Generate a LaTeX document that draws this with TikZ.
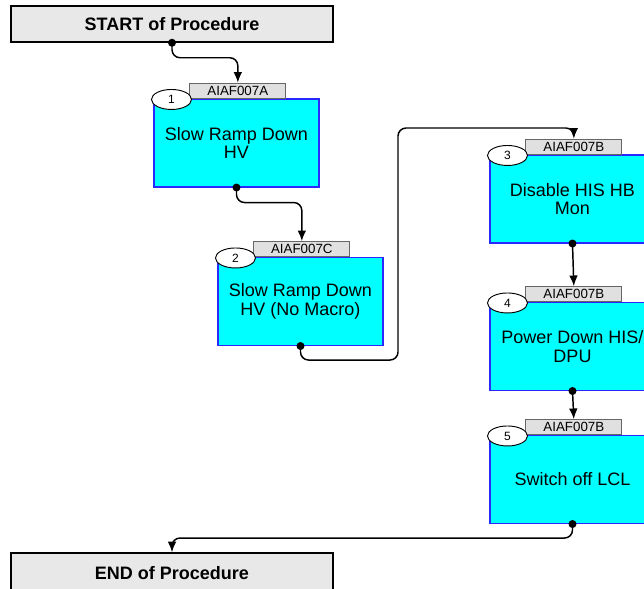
\documentclass[tikz,border=0pt]{standalone}
\usepackage{fontspec}
\setmainfont{Liberation Sans}
\usetikzlibrary{
		arrows.meta,
		shapes.geometric,
		positioning
	}
\definecolor{stepcyan}{RGB}{0,255,255}
\definecolor{stepblue}{RGB}{40,40,255}
\definecolor{taggray}{RGB}{224,224,224}
\definecolor{endgray}{RGB}{232,232,232}
\tikzset{
		>={Latex[length=8pt,width=6.5pt]},
		endbox/.style={draw=black, fill=endgray, line width=1.1pt, minimum width=241.5pt,
			minimum height=27pt, inner sep=0pt, font=\fontsize{13.5}{14}\selectfont\bfseries},
		stepbox/.style={draw=stepblue, fill=stepcyan, line width=0.8pt, minimum width=123.75pt,
			minimum height=66pt, inner sep=0pt, align=center, font=\fontsize{13.5}{14}\selectfont},
		tagbox/.style={draw=black!60, fill=taggray, line width=0.6pt, anchor=south, xshift=1pt,
			minimum width=72pt, minimum height=11.25pt, inner sep=0pt, font=\fontsize{10}{10}\selectfont},
		numbox/.style={ellipse, draw=black, fill=white, line width=0.7pt, minimum width=30pt,
			minimum height=15pt, inner sep=0pt, font=\fontsize{9}{9}\selectfont},
		link/.style={->, line width=1.1pt, rounded corners=6pt}
	}

\begin{document}
\begin{tikzpicture}[x=0.75pt,y=-0.75pt]
    \clip (0,0) rectangle (644,589);

    % start and end of the procedure
    \node[endbox] (start) at (172,24) {START of Procedure};
    \node[endbox, minimum height=30pt] (finish) at (172,573) {END of Procedure};

    % the steps
    \node[stepbox] (s1) at (236.5,143) {Slow Ramp Down\\HV};
    \node[stepbox] (s2) at (300.5,301.5) {Slow Ramp Down\\HV (No Macro)};
    \node[stepbox] (s3) at (572.5,199) {Disable HIS HB\\Mon};
    \node[stepbox] (s4) at (572.5,346.5) {Power Down HIS/\\DPU};
    \node[stepbox] (s5) at (572.5,479.5) {Switch off LCL};

    % the tags on top of the steps
    \node[tagbox] (t1) at (s1.north) {AIAF007A};
    \node[tagbox] (t2) at (s2.north) {AIAF007C};
    \node[tagbox] (t3) at (s3.north) {AIAF007B};
    \node[tagbox] (t4) at (s4.north) {AIAF007B};
    \node[tagbox] (t5) at (s5.north) {AIAF007B};

    % the step numbers
    \node[numbox] (n1) at ([shift={(18,1)}]s1.north west) {1};
    \node[numbox] (n2) at ([shift={(18,1)}]s2.north west) {2};
    \node[numbox] (n3) at ([shift={(18,1)}]s3.north west) {3};
    \node[numbox] (n4) at ([shift={(18,1)}]s4.north west) {4};
    \node[numbox] (n5) at ([shift={(18,1)}]s5.north west) {5};

    % draw the arrows
    \coordinate (turn) at (398,128);
    \draw[link] (start.south) -- ++(0,15) -| (t1.north);
    \draw[link] (s1.south) -- ++(0,15) -| (t2.north);
    \draw[link] (s2.south) -- ++(0,14) -| (turn) -| (t3.north);
    \draw[link] (s3.south) -- (t4.north);
    \draw[link] (s4.south) -- (t5.north);
    \draw[link] (s5.south) -- ++(0,14) -| (finish.north);

    % the dots where the arrows leave
    \foreach \n in {start,s1,s2,s3,s4,s5}
        \fill (\n.south) circle (3pt);

\end{tikzpicture}
\end{document}
